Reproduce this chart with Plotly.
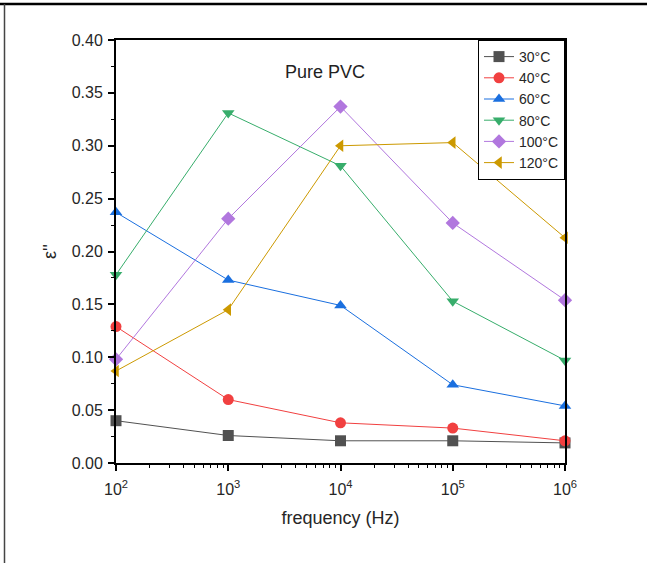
import plotly.graph_objects as go

freq = [1e2, 1e3, 1e4, 1e5, 1e6]
series_names = ["30°C", "40°C", "60°C", "80°C", "100°C", "120°C"]
eps_30 = [0.040, 0.026, 0.021, 0.021, 0.019]
eps_40 = [0.129, 0.060, 0.038, 0.033, 0.021]
eps_60 = [0.237, 0.173, 0.149, 0.074, 0.054]
eps_80 = [0.178, 0.331, 0.281, 0.153, 0.097]
eps_100 = [0.098, 0.231, 0.337, 0.227, 0.154]
eps_120 = [0.087, 0.145, 0.300, 0.303, 0.213]
all_values = [eps_30, eps_40, eps_60, eps_80, eps_100, eps_120]

colors = ["#515151", "#F14040", "#1A6FDF", "#37AD6B", "#B177DE", "#CC9900"]
symbols = ["square", "circle", "triangle-up", "triangle-down", "diamond", "triangle-left"]

x_tickvals = [1e2, 1e3, 1e4, 1e5, 1e6]
x_ticktext = ["10<sup>2</sup>", "10<sup>3</sup>", "10<sup>4</sup>", "10<sup>5</sup>", "10<sup>6</sup>"]
minor_x = [m * 10 ** d for d in range(2, 6) for m in range(2, 10)]

fig = go.Figure()
for name, vals, c, s in zip(series_names, all_values, colors, symbols):
    fig.add_trace(go.Scatter(
        x=freq, y=vals, name=name, mode="lines+markers",
        line=dict(color=c, width=1),
        marker=dict(symbol=s, size=11, color=c, line=dict(width=0)),
        cliponaxis=False,
    ))

W, H = 647, 563
L, R, T, B = 116, 82, 40, 100
pw, ph = W - L - R, H - T - B

def px(xp):
    return (xp - L) / pw

def py(yp):
    return (H - B - yp) / ph

fig.update_layout(
    width=W, height=H,
    margin=dict(l=L, r=R, t=T, b=B),
    paper_bgcolor="white", plot_bgcolor="white",
    font=dict(family="Liberation Sans, Arial, sans-serif", color="#262626", size=15),
    showlegend=True,
    legend=dict(x=1, y=1, xanchor="right", yanchor="top",
                bordercolor="black", borderwidth=1, bgcolor="white",
                font=dict(size=14), tracegroupgap=0, itemwidth=30),
    xaxis=dict(type="log", range=[2, 6], showgrid=False, zeroline=False,
               showline=True, linecolor="black", linewidth=2, mirror=True,
               tickvals=x_tickvals, ticktext=x_ticktext,
               ticks="outside", ticklen=6, tickwidth=1.5, tickcolor="black",
               tickfont=dict(size=16), ticklabelstandoff=5,
               minor=dict(tickvals=minor_x, ticks="outside", ticklen=3, tickcolor="black", tickwidth=1),
               title=dict(text="frequency (Hz)", font=dict(size=18), standoff=14)),
    yaxis=dict(range=[0, 0.40], showgrid=False, zeroline=False,
               showline=True, linecolor="black", linewidth=2, mirror=True,
               dtick=0.05, tick0=0, tickformat=".2f",
               ticks="outside", ticklen=6, tickwidth=1.5, tickcolor="black",
               tickfont=dict(size=16), ticklabelstandoff=2,
               minor=dict(dtick=0.025, tick0=0, ticks="outside", ticklen=3, tickcolor="black", tickwidth=1),
               title=dict(text="ε''", font=dict(size=18), standoff=10)),
    annotations=[dict(text="Pure PVC", x=px(325), y=py(60), xref="paper", yref="paper",
                      showarrow=False, font=dict(size=18, color="#222222"))],
    shapes=[
        dict(type="line", xref="paper", yref="paper", x0=px(0), x1=px(W), y0=py(4), y1=py(4),
             line=dict(color="black", width=2.5)),
        dict(type="line", xref="paper", yref="paper", x0=px(4.5), x1=px(4.5), y0=py(4), y1=py(H),
             line=dict(color="#444444", width=1.5)),
    ],
)

fig.write_html("out.html")
